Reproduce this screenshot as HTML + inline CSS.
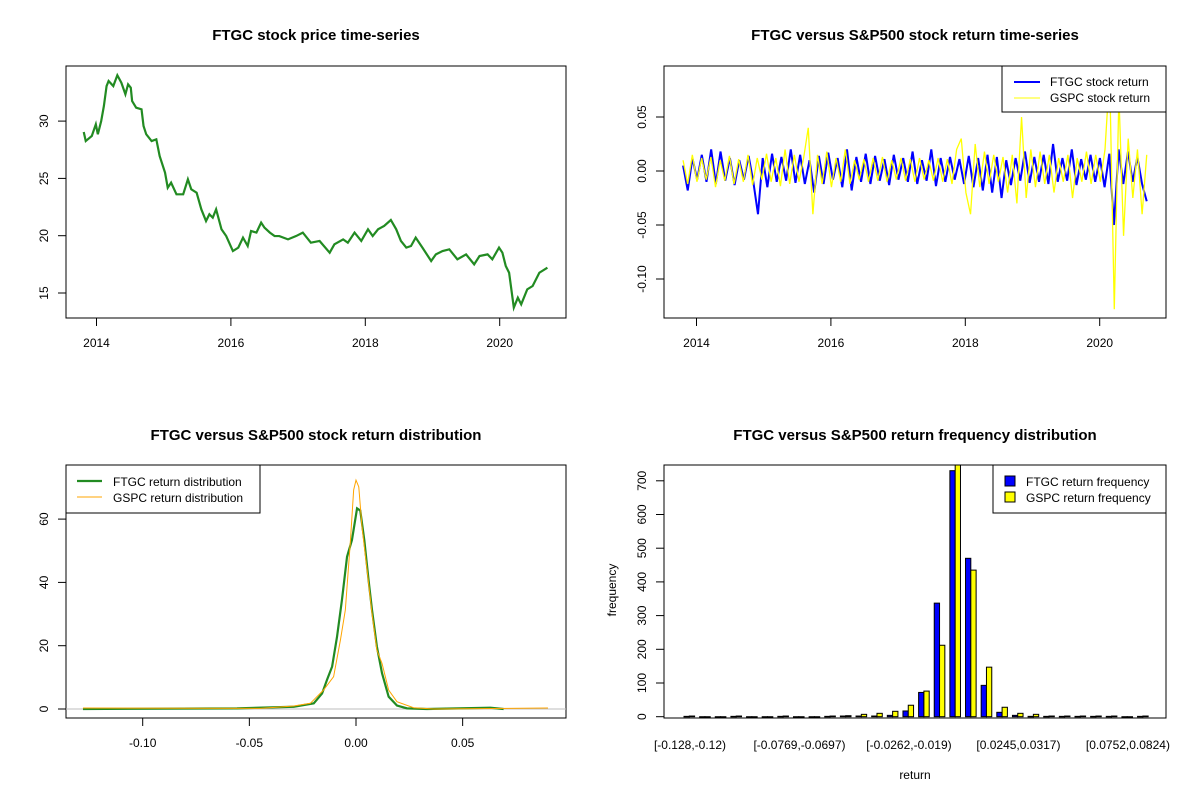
<!DOCTYPE html>
<html><head><meta charset="utf-8"><style>
body{margin:0;background:#fff}
svg{display:block;font-family:"Liberation Sans",Arial,sans-serif}
</style></head><body>
<svg id="s" width="1200" height="800" xmlns="http://www.w3.org/2000/svg"></svg>
<script>
// ---- Panel 1 data: FTGC price
const priceYears=[2013.81,2013.84,2013.93,2013.99,2014.02,2014.07,2014.11,2014.15,2014.18,2014.25,2014.31,2014.37,2014.43,2014.47,2014.51,2014.53,2014.59,2014.67,2014.70,2014.74,2014.82,2014.89,2014.94,2015.02,2015.06,2015.11,2015.19,2015.29,2015.36,2015.41,2015.49,2015.56,2015.63,2015.68,2015.73,2015.78,2015.86,2015.93,2016.03,2016.11,2016.18,2016.25,2016.30,2016.38,2016.45,2016.50,2016.58,2016.65,2016.72,2016.85,2016.97,2017.07,2017.19,2017.32,2017.47,2017.54,2017.67,2017.74,2017.84,2017.94,2018.04,2018.11,2018.19,2018.28,2018.38,2018.46,2018.53,2018.61,2018.68,2018.75,2018.85,2018.98,2019.05,2019.15,2019.25,2019.37,2019.50,2019.62,2019.70,2019.82,2019.89,2019.99,2020.04,2020.09,2020.14,2020.21,2020.27,2020.32,2020.41,2020.49,2020.59,2020.71];
const priceValues=[29.05,28.26,28.70,29.72,28.85,30.01,31.32,33.06,33.5,33.06,34.0,33.35,32.34,33.21,32.92,31.75,31.17,31.03,29.57,28.85,28.26,28.41,26.95,25.5,24.19,24.63,23.61,23.61,24.92,24.05,23.75,22.30,21.28,21.87,21.57,22.30,20.56,19.97,18.66,18.96,19.83,19.10,20.41,20.27,21.14,20.70,20.27,19.97,19.97,19.68,19.97,20.27,19.39,19.54,18.52,19.25,19.68,19.39,20.27,19.54,20.56,19.97,20.56,20.85,21.37,20.56,19.54,18.96,19.10,19.83,18.96,17.79,18.37,18.66,18.81,17.94,18.37,17.50,18.23,18.37,17.94,18.96,18.52,17.36,16.77,13.72,14.59,14.01,15.32,15.61,16.77,17.21];
const priceTicks=[15,20,25,30];
const yearTicks=[2014,2016,2018,2020];
// ---- Panel 2 data: returns
const retStart=2013.8, retEnd=2020.7;
const ftgcReturns=[0.005,-0.018,0.012,-0.008,0.015,-0.01,0.02,-0.012,0.018,-0.009,0.012,-0.013,0.01,-0.008,0.014,-0.01,-0.04,0.012,-0.015,0.016,-0.01,0.013,-0.009,0.02,-0.011,0.015,-0.012,0.01,-0.02,0.014,-0.012,0.017,-0.008,0.012,-0.015,0.02,-0.018,0.013,-0.01,0.016,-0.012,0.014,-0.009,0.011,-0.013,0.015,-0.008,0.012,-0.01,0.018,-0.012,0.01,-0.009,0.02,-0.014,0.012,-0.01,0.013,-0.008,0.011,-0.012,0.014,-0.015,0.012,-0.018,0.015,-0.02,0.013,-0.025,0.01,-0.013,0.012,-0.009,0.018,-0.011,0.013,-0.01,0.015,-0.012,0.025,-0.01,0.012,-0.009,0.02,-0.013,0.011,-0.008,0.015,-0.01,0.012,-0.015,0.016,-0.05,0.02,-0.012,0.018,-0.01,0.013,-0.012,-0.028];
const gspcReturns=[0.01,-0.012,0.015,-0.01,0.012,-0.008,0.013,-0.015,0.01,-0.009,0.014,-0.012,0.011,-0.01,0.015,-0.013,0.012,-0.008,0.016,-0.01,0.012,-0.014,0.02,-0.012,0.015,-0.01,0.012,0.04,-0.04,0.015,-0.012,0.018,-0.015,0.012,-0.01,0.02,-0.012,0.01,-0.008,0.011,-0.01,0.012,-0.009,0.013,-0.01,0.01,-0.008,0.012,-0.009,0.011,-0.01,0.012,-0.008,0.01,-0.009,0.012,-0.01,0.011,-0.012,0.02,0.03,-0.02,-0.04,0.025,-0.015,0.018,-0.012,0.015,-0.01,0.013,-0.02,0.015,-0.03,0.05,-0.025,0.02,-0.015,0.018,-0.012,0.015,-0.02,0.012,-0.01,0.015,-0.025,0.012,-0.01,0.018,-0.012,0.015,-0.01,0.02,0.09,-0.128,0.07,-0.06,0.03,-0.025,0.02,-0.04,0.015];
const retTicks=[0.05,0.00,-0.05,-0.10];
const retTickLabels=["0.05","0.00","-0.05","-0.10"];
// ---- Panel 3 data: densities
const ftgcDensX=[-0.128,-0.0558,-0.0292,-0.0198,-0.0159,-0.0136,-0.0112,-0.0089,-0.0066,-0.0042,-0.0019,0.0005,0.002,0.0039,0.0059,0.0075,0.0098,0.0122,0.0153,0.0192,0.0239,0.0333,0.0630,0.0692];
const ftgcDensY=[0,0.2,0.7,1.8,4.9,9.2,13.4,22.8,34.4,48.1,53.4,63.4,62.7,53.3,40.7,31.3,19.7,11.3,3.9,1.1,0.2,0,0.4,0];
const gspcDensX=[-0.128,-0.0448,-0.0292,-0.0214,-0.0152,-0.0105,-0.0073,-0.005,-0.0027,-0.0011,0,0.0013,0.0028,0.0052,0.0075,0.0098,0.0122,0.0153,0.0192,0.027,0.0364,0.09];
const gspcDensY=[0.3,0.2,0.95,1.8,6.0,10.2,21.8,31.3,52.3,69.2,72.3,70.2,57.6,43.9,30.2,18.6,14.4,6.0,2.3,0.4,0,0.3];
const densXTicks=[-0.10,-0.05,0.00,0.05];
const densXTickLabels=["-0.10","-0.05","0.00","0.05"];
const densYTicks=[0,20,40,60];
// ---- Panel 4 data: histogram
const binLabels=["[-0.128,-0.12)","","","","","","","[-0.0769,-0.0697)","","","","","","","[-0.0262,-0.019)","","","","","","","[0.0245,0.0317)","","","","","","","[0.0752,0.0824)",""];
const ftgcFreq=[1,0,0,1,0,0,1,0,0,1,2,2,2,4,17,72,337,730,470,93,13,4,1,1,1,1,1,1,0,1];
const gspcFreq=[2,0,0,2,0,0,2,0,0,2,3,7,10,16,34,76,212,770,435,147,28,10,7,2,2,2,2,2,0,2];
const freqTicks=[0,100,200,300,400,500,600,700];

const S=document.getElementById('s');
const NS='http://www.w3.org/2000/svg';
function el(tag,attrs,parent){const e=document.createElementNS(NS,tag);for(const k in attrs)e.setAttribute(k,attrs[k]);(parent||S).appendChild(e);return e;}
function txt(str,x,y,opts,parent){const t=el('text',Object.assign({x:x,y:y,'font-size':12,'text-anchor':'middle',fill:'#000'},opts||{}),parent);t.textContent=str;return t;}
function box(x0,y0,x1,y1,g){el('rect',{x:x0,y:y0,width:x1-x0,height:y1-y0,fill:'none',stroke:'#000','stroke-width':1},g);}
function yTickRot(g,x,y,label){el('line',{x1:x-8,y1:y,x2:x,y2:y,stroke:'#000'},g);const t=txt(label,x-18,y,{transform:'rotate(-90 '+(x-18)+' '+y+')'},g);}
function xTick(g,x,y,label){el('line',{x1:x,y1:y,x2:x,y2:y+8,stroke:'#000'},g);txt(label,x,y+29,{},g);}

// ===== Panel 1
const p1=el('g',{});

const t1=txt('FTGC stock price time-series',316,40,{'font-size':15,'font-weight':'bold'},p1);

const x1=y=>96.5+(y-2014)*67.2, y1=v=>293-(v-15)*11.46;
box(66,66,566,318,p1);
priceTicks.forEach(v=>yTickRot(p1,66,y1(v),String(v)));
yearTicks.forEach(v=>xTick(p1,x1(v),318,String(v)));
const pl=el('polyline',{points:priceYears.map((y,i)=>x1(y)+','+y1(priceValues[i])).join(' '),fill:'none',stroke:'#228B22','stroke-width':2.2,'stroke-linejoin':'miter'},p1);


// ===== Panel 2
const p2=el('g',{});

const t2=txt('FTGC versus S&P500 stock return time-series',915,40,{'font-size':15,'font-weight':'bold'},p2);

const x2=y=>696.5+(y-2014)*67.2, y2=v=>171-v*1080;
const clip=el('clipPath',{id:'c2'},p2);el('rect',{x:664,y:66,width:502,height:252},clip);
box(664,66,1166,318,p2);
retTicks.forEach((v,i)=>yTickRot(p2,664,y2(v),retTickLabels[i]));
yearTicks.forEach(v=>xTick(p2,x2(v),318,String(v)));
function retLine(arr,color,w,name){const n=arr.length;const pts=arr.map((v,i)=>x2(retStart+(retEnd-retStart)*i/(n-1))+','+y2(v)).join(' ');const l=el('polyline',{points:pts,fill:'none',stroke:color,'stroke-width':w,'clip-path':'url(#c2)'},p2);}
retLine(ftgcReturns,'#0000ff',2,'ftgc-return-line');
retLine(gspcReturns,'#ffff00',1.3,'gspc-return-line');
const lg2=el('g',{},p2);
el('rect',{x:1002,y:66,width:164,height:46,fill:'#fff',stroke:'#000'},lg2);
el('line',{x1:1014,y1:82,x2:1040,y2:82,stroke:'#0000ff','stroke-width':2},lg2);
el('line',{x1:1014,y1:98,x2:1040,y2:98,stroke:'#ffff00','stroke-width':1},lg2);
txt('FTGC stock return',1050,86,{'text-anchor':'start'},lg2);
txt('GSPC stock return',1050,102,{'text-anchor':'start'},lg2);

// ===== Panel 3
const p3=el('g',{});

const t3=txt('FTGC versus S&P500 stock return distribution',316,440,{'font-size':15,'font-weight':'bold'},p3);

const x3=v=>356+v*2133, y3=v=>709-v*3.165;
box(66,465,566,718,p3);
densYTicks.forEach(v=>yTickRot(p3,66,y3(v),String(v)));
densXTicks.forEach((v,i)=>xTick(p3,x3(v),718,densXTickLabels[i]));
el('line',{x1:66,y1:y3(0),x2:566,y2:y3(0),stroke:'#bebebe','stroke-width':1},p3);
const dg=el('polyline',{points:ftgcDensX.map((v,i)=>x3(v)+','+y3(ftgcDensY[i])).join(' '),fill:'none',stroke:'#228B22','stroke-width':2.2},p3);

const dy=el('polyline',{points:gspcDensX.map((v,i)=>x3(v)+','+y3(gspcDensY[i])).join(' '),fill:'none',stroke:'#FFA500','stroke-width':1},p3);

const lg3=el('g',{},p3);
el('rect',{x:66,y:465,width:194,height:48,fill:'#fff',stroke:'#000'},lg3);
el('line',{x1:77,y1:481,x2:102,y2:481,stroke:'#228B22','stroke-width':2.2},lg3);
el('line',{x1:77,y1:497,x2:102,y2:497,stroke:'#FFA500','stroke-width':1},lg3);
txt('FTGC return distribution',113,486,{'text-anchor':'start'},lg3);
txt('GSPC return distribution',113,502,{'text-anchor':'start'},lg3);

// ===== Panel 4
const p4=el('g',{});

const t4=txt('FTGC versus S&P500 return frequency distribution',915,440,{'font-size':15,'font-weight':'bold'},p4);

const gx=i=>690+i*15.64, y4=v=>716.7-v*0.337;
const clip4=el('clipPath',{id:'c4'},p4);el('rect',{x:664,y:465,width:502,height:253},clip4);
freqTicks.forEach(v=>yTickRot(p4,664,y4(v),String(v)));
ftgcFreq.forEach((v,i)=>{const r=el('rect',{x:gx(i)-6,y:y4(v),width:5.3,height:Math.max(0.5,v*0.337),fill:'#0000ff',stroke:'#000','stroke-width':1,'clip-path':'url(#c4)'},p4);});
gspcFreq.forEach((v,i)=>{const r=el('rect',{x:gx(i)-0.7,y:y4(v),width:5.3,height:Math.max(0.5,v*0.337),fill:'#ffff00',stroke:'#000','stroke-width':1,'clip-path':'url(#c4)'},p4);});
box(664,465,1166,718,p4);
binLabels.forEach((l,i)=>{if(l)txt(l,gx(i),749,{},p4);});
const xl=txt('return',915,779,{},p4);
const yl=txt('frequency',616,590,{transform:'rotate(-90 616 590)'},p4);
const lg4=el('g',{},p4);
el('rect',{x:993,y:465,width:173,height:48,fill:'#fff',stroke:'#000'},lg4);
el('rect',{x:1005,y:476,width:10,height:10,fill:'#0000ff',stroke:'#000'},lg4);
el('rect',{x:1005,y:492,width:10,height:10,fill:'#ffff00',stroke:'#000'},lg4);
txt('FTGC return frequency',1026,486,{'text-anchor':'start'},lg4);
txt('GSPC return frequency',1026,502,{'text-anchor':'start'},lg4);
</script>
</body></html>
